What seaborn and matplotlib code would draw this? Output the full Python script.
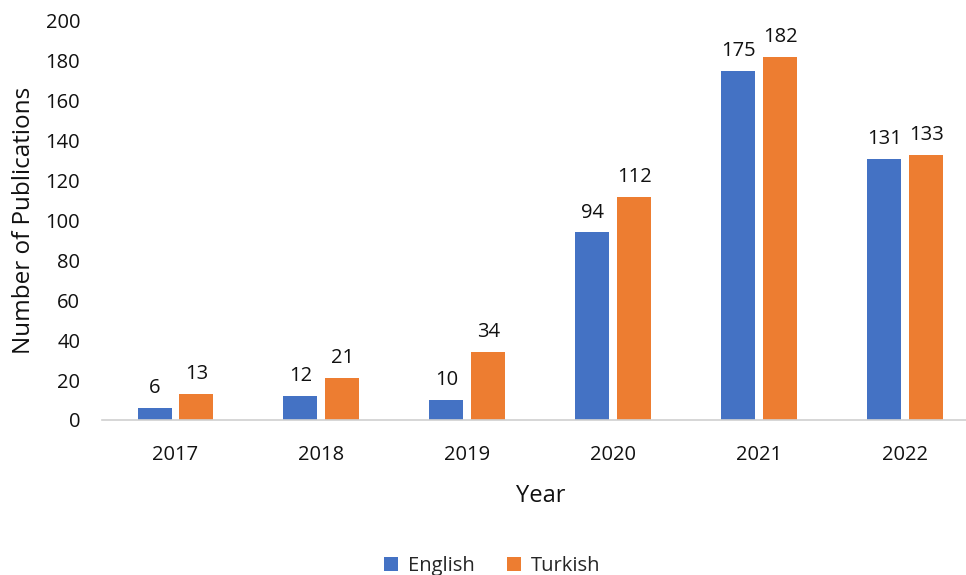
import pandas as pd
import seaborn as sns
import matplotlib.pyplot as plt

# data
years = ["2017", "2018", "2019", "2020", "2021", "2022"]
english = [6, 12, 10, 94, 175, 131]
turkish = [13, 21, 34, 112, 182, 133]

df = pd.DataFrame({
    "Year": years * 2,
    "Count": english + turkish,
    "Language": ["English"] * len(years) + ["Turkish"] * len(years),
})

sns.set_style("white")
plt.rcParams["font.family"] = ["Open Sans", "DejaVu Sans"]

fig = plt.figure(figsize=(9.66, 5.75), dpi=100)
# axes runs a little past the right edge, like the original
ax = fig.add_axes([0.1061, 0.2696, 0.9068, 0.694])

sns.barplot(
    data=df, x="Year", y="Count", hue="Language",
    palette={"English": "#4472C4", "Turkish": "#ED7D31"},
    width=0.575, gap=0.19, saturation=1, linewidth=0,
    ax=ax, legend=True,
)

for cont in ax.containers:
    ax.bar_label(cont, padding=7, fontsize=14.5, color="#111111")

ax.set_ylim(0, 200)
ax.set_yticks(range(0, 201, 20))
ax.set_xlim(-0.5, 5.5)
ax.tick_params(axis="both", labelsize=14.5, colors="#111111", length=0)
ax.tick_params(axis="x", pad=18)
ax.tick_params(axis="y", pad=16)
ax.set_xlabel("Year", fontsize=17, labelpad=14, color="#111111")
ax.set_ylabel("Number of Publications", fontsize=17.5, labelpad=7, color="#111111")

for s in ["top", "right", "left"]:
    ax.spines[s].set_visible(False)
ax.spines["bottom"].set_color("#D0D0D0")
ax.spines["bottom"].set_linewidth(1.2)
ax.grid(False)

leg = ax.legend(
    loc="center", bbox_to_anchor=(0.445, -0.365), ncol=2, frameon=False,
    fontsize=14.5, handlelength=0.7, handleheight=0.7, columnspacing=1.6,
    handletextpad=0.5,
)

fig.savefig("out.png", dpi=100)
